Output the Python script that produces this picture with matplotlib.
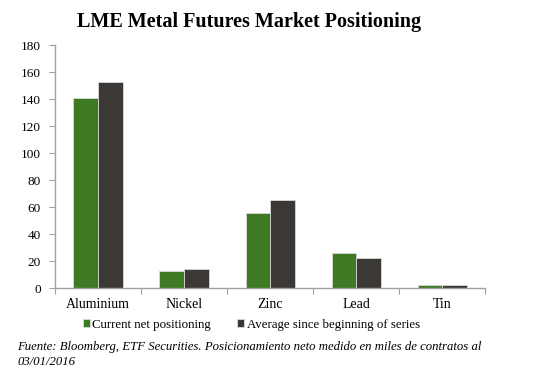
import matplotlib.pyplot as plt
import numpy as np

# data (thousands of contracts)
metals = ['Aluminium', 'Nickel', 'Zinc', 'Lead', 'Tin']
current_net = [141, 12.5, 55.5, 26, 2.5]
average_since_start = [152.5, 14, 65, 22.5, 2]
y_ticks = [0, 20, 40, 60, 80, 100, 120, 140, 160, 180]

GREEN = '#3e7a23'
DARK = '#3c3835'
SPINE = '#a0a0a0'

plt.rcParams['font.family'] = ['Liberation Serif', 'DejaVu Serif']

fig = plt.figure(figsize=(5.39, 3.76), dpi=100)
ax = fig.add_axes([0.102, 0.234, 0.798, 0.646])

x = np.arange(len(metals))
w = 0.285
ax.bar(x - w / 2, current_net, w, color=GREEN, edgecolor='#d8d8d8', linewidth=0.6,
       label='Current net positioning')
ax.bar(x + w / 2, average_since_start, w, color=DARK, edgecolor='#d8d8d8', linewidth=0.6,
       label='Average since beginning of series')

ax.set_xlim(-0.5, len(metals) - 0.5)
ax.set_ylim(0, 180)
ax.set_yticks(y_ticks)
ax.set_yticklabels([str(t) for t in y_ticks], fontsize=9.5)

# category labels between boundary ticks
ax.set_xticks(np.arange(-0.5, len(metals), 1.0))
ax.set_xticklabels([])
ax.set_xticks(x, minor=True)
ax.set_xticklabels(metals, minor=True, fontsize=10)
ax.tick_params(axis='x', which='minor', length=0, pad=7)
ax.tick_params(axis='x', which='major', length=4, color=SPINE)
ax.tick_params(axis='y', length=4, color=SPINE, pad=6)

for side in ['top', 'right']:
    ax.spines[side].set_visible(False)
for side in ['left', 'bottom']:
    ax.spines[side].set_color(SPINE)
    ax.spines[side].set_linewidth(1.0)

fig.text(0.463, 0.941, 'LME Metal Futures Market Positioning', ha='center', va='center',
         fontsize=14.5, fontweight='bold')

leg = fig.legend(loc='center', bbox_to_anchor=(0.466, 0.136), ncol=2, frameon=False,
                 fontsize=9.3, handlelength=0.55, handleheight=0.55, handletextpad=0.2,
                 columnspacing=2.0)

fig.text(0.032, 0.077, 'Fuente: Bloomberg, ETF Securities. Posicionamiento neto medido en miles de contratos al',
         fontsize=9.2, style='italic', va='center')
fig.text(0.032, 0.037, '03/01/2016', fontsize=9.2, style='italic', va='center')

fig.savefig('out.png', dpi=100)
